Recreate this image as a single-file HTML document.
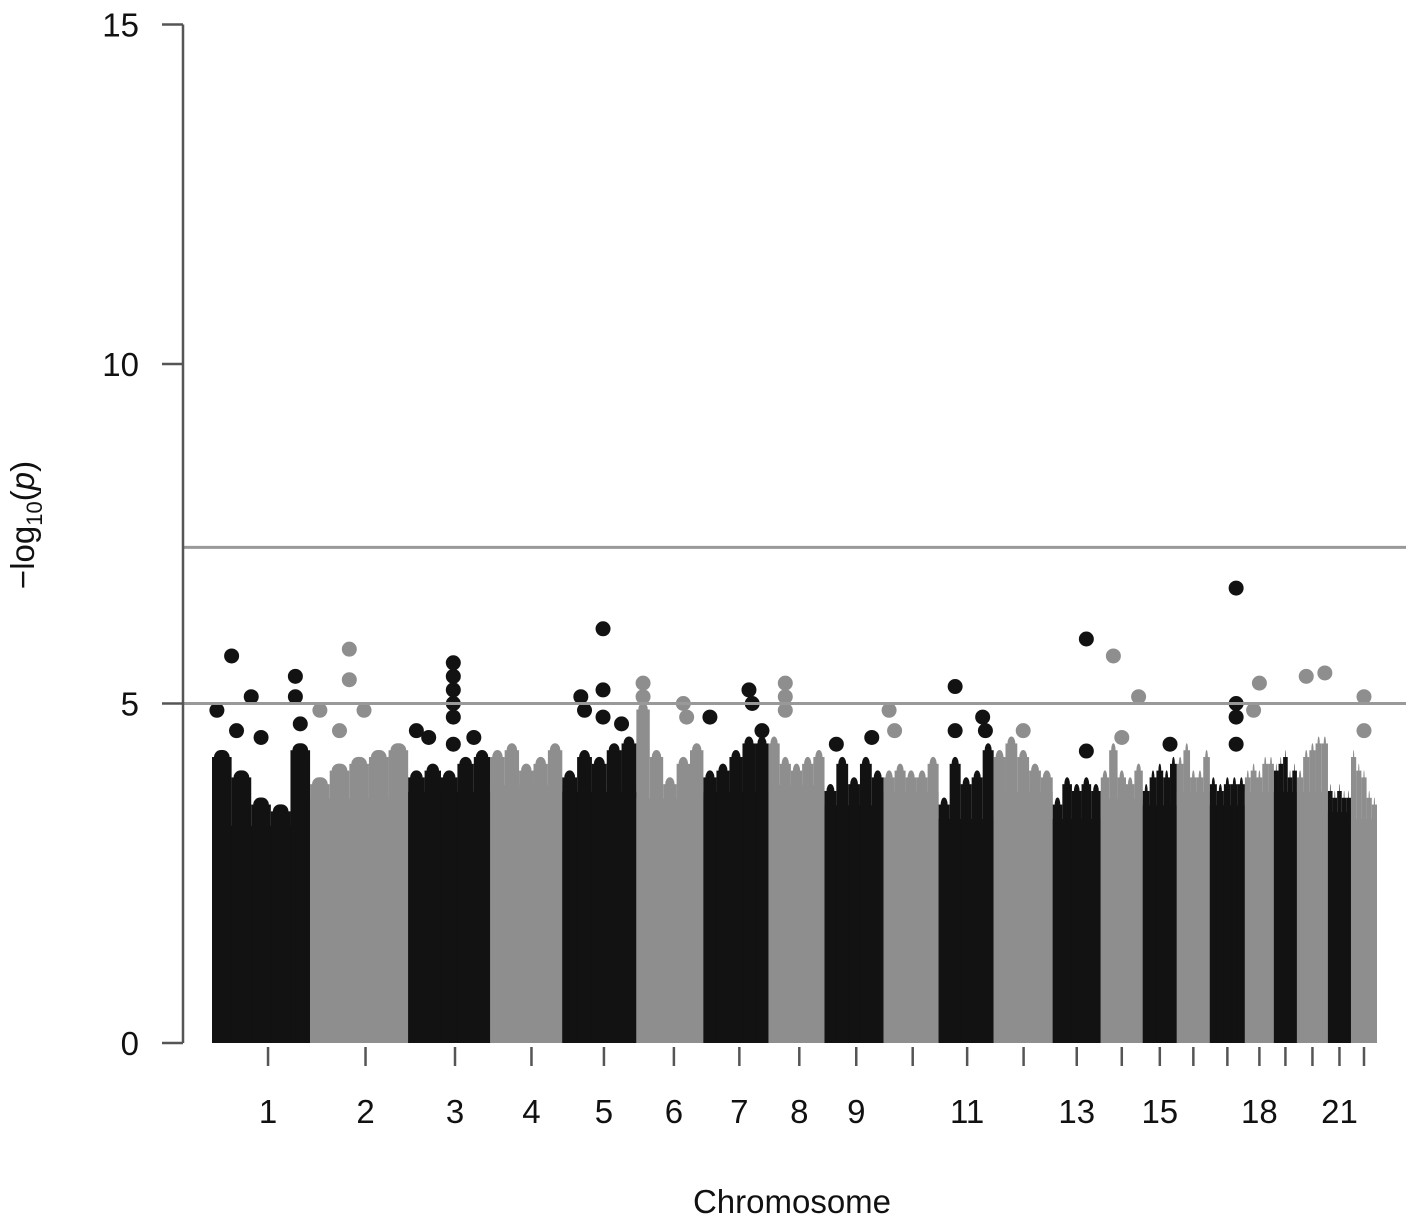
<!DOCTYPE html>
<html><head><meta charset="utf-8"><style>
body{margin:0;background:#fff;}
svg{display:block;font-family:"Liberation Sans",sans-serif;}
</style></head><body>
<svg id="chart" width="1414" height="1226" viewBox="0 0 1414 1226">
<g id="marks"></g>
<g id="axes"></g>
</svg>
<script>
const chromosomes = ["1","2","3","4","5","6","7","8","9","10","11","12","13","14","15","16","17","18","19","20","21","22"];
const chromLengths = [98,98,82,72,74,67,65,56,59,55,55,59,48,42,34,33,35,29,23,31,23,26];
const denseProfile = [
 [4.3,4.0,3.6,3.5,4.4],[3.9,4.1,4.2,4.3,4.4],[4.0,4.1,4.0,4.2,4.3],[4.3,4.4,4.1,4.2,4.4],
 [4.0,4.3,4.2,4.4,4.5],[5.0,4.3,3.9,4.2,4.4],[4.0,4.1,4.3,4.5,4.5],[4.5,4.2,4.1,4.2,4.3],
 [3.8,4.2,3.9,4.2,4.0],[4.0,4.1,4.0,4.0,4.2],[3.6,4.2,3.9,4.0,4.4],[4.3,4.5,4.3,4.1,4.0],
 [3.6,3.9,3.8,3.9,3.8],[4.0,4.4,4.0,3.9,4.1],[3.8,4.0,4.1,4.0,4.2],[4.2,4.4,4.0,4.0,4.3],
 [3.9,3.8,3.9,3.9,3.9],[4.0,4.1,4.0,4.2,4.2],[4.1,4.2,4.3,4.0,4.1],[4.0,4.3,4.4,4.5,4.5],
 [3.8,3.7,3.8,3.7,3.7],[4.3,4.1,4.0,3.7,3.6]];
const shownLabels = ["1","2","3","4","5","6","7","8","9","11","13","15","18","21"];
const yTicks = [0,5,10,15];
const thresholds = [7.3,5];
const ptChrom = [0,0,0,0,0,0,0,0, 1,1,1,1,1, 2,2,2,2,2,2,2,2,2, 4,4,4,4,4,4, 5,5,5,5, 6,6,6,6, 7,7,7, 8,8, 9,9, 10,10,10,10, 11, 12,12, 13,13,13, 14, 16,16,16,16, 17,17, 19,19, 21,21];
const ptFrac = [0.2,0.4,0.05,0.25,0.5,0.85,0.85,0.9, 0.4,0.4,0.1,0.55,0.3, 0.55,0.55,0.55,0.55,0.55,0.1,0.25,0.8,0.55, 0.55,0.55,0.25,0.3,0.55,0.8, 0.1,0.1,0.7,0.75, 0.7,0.75,0.1,0.9, 0.3,0.3,0.3, 0.2,0.8, 0.1,0.2, 0.3,0.3,0.8,0.85, 0.5, 0.7,0.7, 0.3,0.5,0.9, 0.8, 0.75,0.75,0.75,0.75, 0.5,0.3, 0.3,0.9, 0.5,0.5];
const ptVal = [5.7,5.1,4.9,4.6,4.5,5.4,5.1,4.7, 5.8,5.35,4.9,4.9,4.6, 5.6,5.4,5.2,5.0,4.8,4.6,4.5,4.5,4.4, 6.1,5.2,5.1,4.9,4.8,4.7, 5.3,5.1,5.0,4.8, 5.2,5.0,4.8,4.6, 5.3,5.1,4.9, 4.4,4.5, 4.9,4.6, 5.25,4.6,4.8,4.6, 4.6, 5.95,4.3, 5.7,4.5,5.1, 4.4, 6.7,5.0,4.8,4.4, 5.3,4.9, 5.4,5.45, 5.1,4.6];

const NS="http://www.w3.org/2000/svg";
const X0=212,X1=1377,Y0=1043,YPX=67.9;
const total=chromLengths.reduce((a,b)=>a+b,0);
const starts=[];let acc=0;chromLengths.forEach(l=>{starts.push(acc);acc+=l;});
const xs=v=>X0+(v/total)*(X1-X0);
const ys=v=>Y0-v*YPX;
const marks=document.getElementById('marks'),axes=document.getElementById('axes');
function mk(t,a,p){const e=document.createElementNS(NS,t);for(const k in a)e.setAttribute(k,a[k]);p.appendChild(e);return e;}
const col=i=>i%2===0?"#121212":"#8e8e8e";

chromosomes.forEach((c,i)=>{
  const xa=xs(starts[i]),xb=xs(starts[i]+chromLengths[i]);
  const prof=denseProfile[i],n=prof.length,w=(xb-xa)/n;
  const g=mk('g',{fill:col(i)},marks);
  
  
  const minTop=Math.min(...prof);
  mk('rect',{x:xa,y:ys(minTop-0.3),width:xb-xa,height:Y0-ys(minTop-0.3)},g);
  prof.forEach((v,k)=>{
    const x=xa+k*w;
    mk('rect',{x:x,y:ys(v)+6,width:w,height:Y0-ys(v)-6},g);
    mk('rect',{x:x+2,y:ys(v)-1,width:w-4,height:14,rx:7},g);
  });
});
ptVal.forEach((v,k)=>{
  const i=ptChrom[k];
  const cx=xs(starts[i]+ptFrac[k]*chromLengths[i]);
  const d=mk('circle',{cx:cx,cy:ys(v),r:7.5,fill:col(i)},marks);
  
  
});
thresholds.forEach(t=>{
  const l=mk('line',{x1:184,x2:1406,y1:ys(t),y2:ys(t),stroke:"#999",'stroke-width':3},marks);
  
  
});
const ya=mk('line',{x1:183,x2:183,y1:ys(15),y2:Y0,stroke:"#555",'stroke-width':2.5},axes);


yTicks.forEach(t=>{
  const tk=mk('line',{x1:162,x2:183,y1:ys(t),y2:ys(t),stroke:"#555",'stroke-width':2.5},axes);
  
  
  const tx=mk('text',{x:139,y:ys(t)+12,'text-anchor':'end','font-size':33,fill:'#111'},axes);
  tx.textContent=t;
  
  
});
chromosomes.forEach((c,i)=>{
  const off=Math.max(0,7-i*0.6);
  const cx=xs(starts[i]+chromLengths[i]/2)+off;
  const tk=mk('line',{x1:cx,x2:cx,y1:1047,y2:1066,stroke:"#555",'stroke-width':2.5},axes);
  
  
  if(shownLabels.includes(c)){
    const tx=mk('text',{x:cx,y:1123,'text-anchor':'middle','font-size':33,fill:'#111'},axes);
    tx.textContent=c;
    
    
  }
});
const xt=mk('text',{x:792,y:1213,'text-anchor':'middle','font-size':33,fill:'#111'},axes);
xt.textContent="Chromosome";


const yt=mk('text',{x:0,y:0,'text-anchor':'middle','font-size':33,fill:'#111',transform:'translate(34,525) rotate(-90)'},axes);
yt.innerHTML='\u2212log<tspan font-size="22" dy="8">10</tspan><tspan dy="-8">(</tspan><tspan font-style="italic">p</tspan>)';


</script>
</body></html>
